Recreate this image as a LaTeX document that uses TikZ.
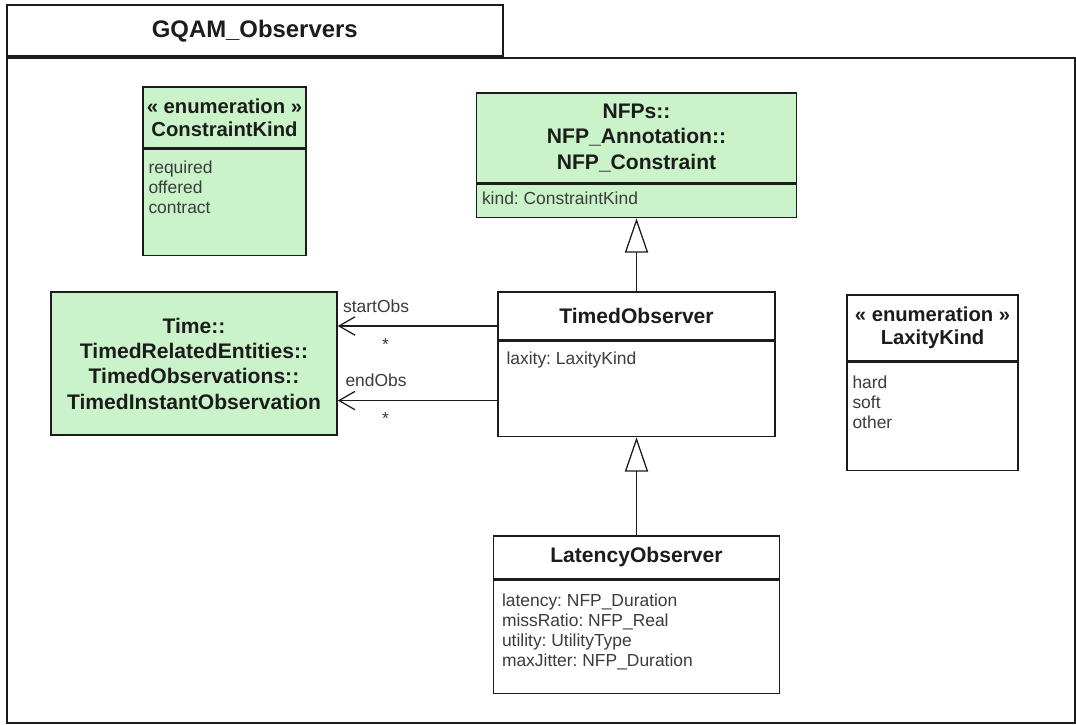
\documentclass[tikz,border=0pt]{standalone}
\usepackage{fontspec}
\setmainfont{Liberation Sans}
\frenchspacing
\usetikzlibrary{arrows.meta,positioning}
\definecolor{mint}{HTML}{CAF3CA}
\definecolor{ink}{HTML}{1C1C1C}
\definecolor{slate}{HTML}{3C3C3C}
\tikzset{head/.style={draw=ink,line width=1.1pt,fill=white,align=center,inner sep=0pt,text=ink,font=\bfseries\fontsize{15}{18}\selectfont},greenhead/.style={head,fill=mint},enumhead/.style={font=\bfseries\fontsize{14.4}{16.2}\selectfont},body/.style={draw=ink,line width=1.1pt,fill=white,inner sep=0pt},greenbody/.style={body,fill=mint},attr/.style={anchor=north west,align=left,inner sep=0pt,text=slate,font=\fontsize{12.4}{14.2}\selectfont},role/.style={text=slate,inner sep=0pt,font=\fontsize{12.4}{14.2}\selectfont},gen/.style={-{Triangle[open,length=8.6mm,width=5.8mm]},line width=0.9pt,draw=ink},assoc/.style={-{Straight Barb[length=4mm,width=4.6mm]},line width=0.9pt,draw=ink}}

\begin{document}
\begin{tikzpicture}[x=0.25mm,y=-0.25mm]
\useasboundingbox (0,0) rectangle (1076,724);
% package frame
\node[body,minimum width=267mm,minimum height=166.25mm,anchor=north west] (pkg) at (6,57) {};
\node[head,font=\bfseries\fontsize{17}{20}\selectfont,minimum width=124mm,minimum height=12.75mm,anchor=south west] (tab) at (6,57) {GQAM\_Observers};
% classes
\node[greenhead,enumhead,minimum width=40.75mm,minimum height=15.25mm] (ckH) at (224.5,117.5) {« enumeration »\\ConstraintKind};
\node[greenbody,minimum width=40.75mm,minimum height=26.5mm,below=0pt of ckH] (ckB) {};
\node[attr] (ckA) at ([shift={(6,12)}]ckB.north west) {required\\offered\\contract};
\node[greenhead,minimum width=80mm,minimum height=22.5mm] (nfpH) at (636.5,138) {NFPs::\\NFP\_Annotation::\\NFP\_Constraint};
\node[greenbody,minimum width=80mm,minimum height=8.25mm,below=0pt of nfpH] (nfpB) {};
\node[attr] (nfpA) at ([shift={(6,8)}]nfpB.north west) {kind: ConstraintKind};
\node[greenhead,minimum width=71.5mm,minimum height=35.75mm] (timeobs) at (194,363.5) {Time::\\TimedRelatedEntities::\\TimedObservations::\\TimedInstantObservation};
\node[head,minimum width=69.25mm,minimum height=12mm] (tobsH) at (636.5,316) {TimedObserver};
\node[body,minimum width=69.25mm,minimum height=23.75mm,below=0pt of tobsH] (tobsB) {};
\node[attr] (tobsA) at ([shift={(9,11)}]tobsB.north west) {laxity: LaxityKind};
\node[head,enumhead,minimum width=42.75mm,minimum height=16.5mm] (lkH) at (932.5,328) {« enumeration »\\LaxityKind};
\node[body,minimum width=42.75mm,minimum height=27mm,below=0pt of lkH] (lkB) {};
\node[attr] (lkA) at ([shift={(6,14)}]lkB.north west) {hard\\soft\\other};
\node[head,minimum width=71.5mm,minimum height=10.75mm] (latH) at (636.5,557.5) {LatencyObserver};
\node[body,minimum width=71.5mm,minimum height=28.25mm,below=0pt of latH] (latB) {};
\node[attr] (latA) at ([shift={(9,14)}]latB.north west) {latency: NFP\_Duration\\missRatio: NFP\_Real\\utility: UtilityType\\maxJitter: NFP\_Duration};
% generalizations
\draw[gen] (tobsH.north) -- (nfpB.south);
\draw[gen] (latH.north) -- (tobsB.south);
% associations
\coordinate (startEnd) at ([yshift=-2.5mm]tobsH.west);
\coordinate (endEnd) at ([yshift=-2.875mm]tobsB.west);
\draw[assoc] (startEnd) -- (startEnd -| timeobs.east) node[role,pos=0.76,yshift=5mm] {startObs} node[role,pos=0.7,yshift=-4.5mm] {*};
\draw[assoc] (endEnd) -- (endEnd -| timeobs.east) node[role,pos=0.76,yshift=5mm] {endObs} node[role,pos=0.7,yshift=-4.5mm] {*};
\end{tikzpicture}
\end{document}
